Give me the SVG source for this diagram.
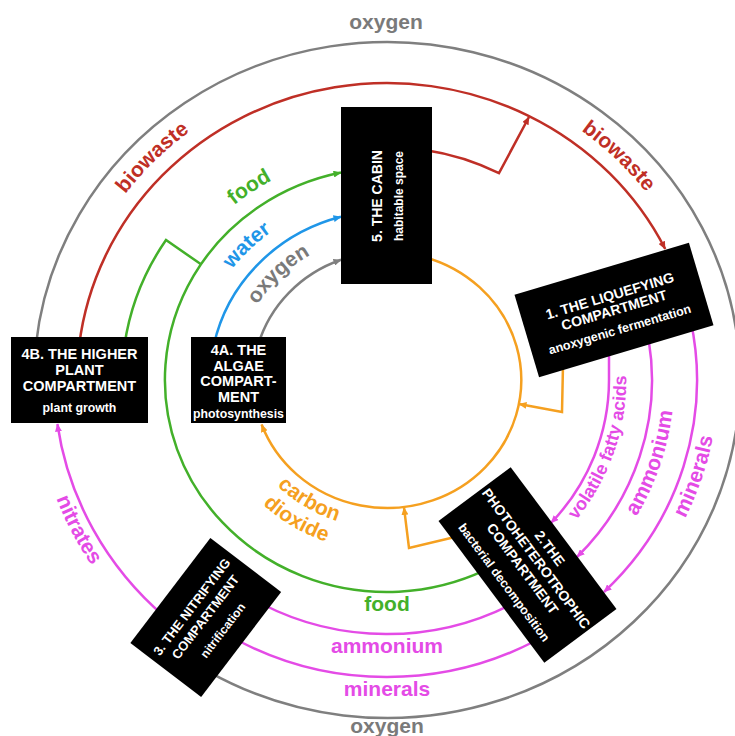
<svg xmlns="http://www.w3.org/2000/svg" width="735" height="736" viewBox="0 0 735 736">
<style>
text{font-family:"Liberation Sans",Arial,Helvetica,sans-serif;font-weight:bold}
.ln{fill:none;stroke-width:2.5;stroke-linejoin:miter}
.gy{stroke:#7f7f7f}.rd{stroke:#bf2f26}.gn{stroke:#43b02a}.bl{stroke:#1f96e8}.or{stroke:#f5a020}.mg{stroke:#e44be6}
.box{fill:#000}
.bt{fill:#fff;font-size:14px;text-anchor:middle}
.bs{fill:#fff;font-size:12px;text-anchor:middle}
.lbl{font-size:21px;text-anchor:middle}
.tgy{fill:#7a7a7a}.trd{fill:#bf2f26}.tgn{fill:#43b02a}.tbl{fill:#1f96e8}.tor{fill:#f5a020}.tmg{fill:#e44be6}
</style>
<defs>
<marker id="aGy" markerWidth="8" markerHeight="7" refX="7.5" refY="3.5" orient="auto" markerUnits="userSpaceOnUse"><path d="M0,0 L8,3.5 L0,7 z" fill="#7f7f7f"/></marker>
<marker id="aRd" markerWidth="8" markerHeight="7" refX="7.5" refY="3.5" orient="auto" markerUnits="userSpaceOnUse"><path d="M0,0 L8,3.5 L0,7 z" fill="#bf2f26"/></marker>
<marker id="aGn" markerWidth="8" markerHeight="7" refX="7.5" refY="3.5" orient="auto" markerUnits="userSpaceOnUse"><path d="M0,0 L8,3.5 L0,7 z" fill="#43b02a"/></marker>
<marker id="aBl" markerWidth="8" markerHeight="7" refX="7.5" refY="3.5" orient="auto" markerUnits="userSpaceOnUse"><path d="M0,0 L8,3.5 L0,7 z" fill="#1f96e8"/></marker>
<marker id="aOr" markerWidth="8" markerHeight="7" refX="7.5" refY="3.5" orient="auto" markerUnits="userSpaceOnUse"><path d="M0,0 L8,3.5 L0,7 z" fill="#f5a020"/></marker>
<marker id="aMg" markerWidth="8" markerHeight="7" refX="7.5" refY="3.5" orient="auto" markerUnits="userSpaceOnUse"><path d="M0,0 L8,3.5 L0,7 z" fill="#e44be6"/></marker>
<path id="pBioL" d="M79.7,275.9 A326,312 0 0 1 272.8,87.8"/>
<path id="pBioR" d="M498.2,87.8 A325,311 0 0 1 692.4,273.6"/>
<path id="pFood" d="M181.5,264.6 A238.3,228 0 0 1 347.3,155.2"/>
<path id="pWater" d="M205.1,317.3 A193.3,185 0 0 1 320.3,206.4"/>
<path id="pOxIn" d="M242.3,337.1 A151.5,145 0 0 1 343.2,241.2"/>
<path id="pVfa" d="M546.5,550.7 A239.3,229 0 0 0 621.2,333.2"/>
<path id="pAmR" d="M597.2,567.6 A287.4,275 0 0 0 672.2,346.5"/>
<path id="pMinR" d="M640.8,583.8 A331.3,317 0 0 0 717.5,357.9"/>
<path id="pNit" d="M36.3,420 A353.2,338 0 0 0 145.2,626.4"/>
<path id="pCarb" d="M249.5,450 A155.7,149 0 0 0 381.6,528.9"/>
<path id="pDiox" d="M228.3,460.8 A179.7,172 0 0 0 380.7,551.9"/>
</defs>
<rect width="735" height="736" fill="#fff"/>

<g id="connectors">
  <path class="ln gy" d="M208,671.3 A353,338 0 1 0 35.9,345"/>
  <path class="ln rd" d="M79.2,345 A310,297 0 0 1 665.2,249" marker-end="url(#aRd)"/>
  <path class="ln rd" d="M425,149.9 A243.5,233 0 0 1 499,173.1 L529,117" marker-end="url(#aRd)"/>
  <path class="ln gn" d="M485,570.2 A222,212 0 1 1 341,172.6" marker-end="url(#aGn)"/>
  <path class="ln gn" d="M124.5,345 A265,254 0 0 1 166,240 L201,264.3"/>
  <path class="ln bl" d="M213.8,345 A177,169 0 0 1 341,216.8" marker-end="url(#aBl)"/>
  <path class="ln gy" d="M258.1,345 A134,128 0 0 1 341,259.8" marker-end="url(#aGy)"/>
  <path class="ln or" d="M425,257.2 A134,128 0 1 1 261.6,424.5" marker-end="url(#aOr)"/>
  <path class="ln or" d="M563,365 L562,412 L519,404" marker-end="url(#aOr)"/>
  <path class="ln or" d="M455,537 L409,548 L404,507.5" marker-end="url(#aOr)"/>
  <path class="ln mg" d="M609,350 L609,380 A222,212 0 0 1 551,523" marker-end="url(#aMg)"/>
  <path class="ln mg" d="M648.7,340 A265,254 0 0 1 577,557" marker-end="url(#aMg)"/>
  <path class="ln mg" d="M690.6,320 A310,297 0 0 1 604,592" marker-end="url(#aMg)"/>
  <path class="ln mg" d="M510,605 A265,254 0 0 1 262,604"/>
  <path class="ln mg" d="M535,641 A310,297 0 0 1 238,640.5"/>
  <path class="ln mg" d="M165,617 A333,318 0 0 1 57.4,424" marker-end="url(#aMg)"/>
</g>

<g id="labels">
  <text class="lbl tgy" x="386" y="29">oxygen</text>
  <text class="lbl tgy" x="387" y="733">oxygen</text>
  <text class="lbl tgn" x="387" y="611">food</text>
  <text class="lbl tmg" x="387" y="653">ammonium</text>
  <text class="lbl tmg" x="387" y="696">minerals</text>
  <text class="lbl trd"><textPath href="#pBioL" startOffset="50%">biowaste</textPath></text>
  <text class="lbl trd"><textPath href="#pBioR" startOffset="50%">biowaste</textPath></text>
  <text class="lbl tgn"><textPath href="#pFood" startOffset="50%">food</textPath></text>
  <text class="lbl tbl"><textPath href="#pWater" startOffset="50%">water</textPath></text>
  <text class="lbl tgy"><textPath href="#pOxIn" startOffset="50%">oxygen</textPath></text>
  <text class="lbl tmg" style="font-size:18px"><textPath href="#pVfa" startOffset="50%">volatile fatty acids</textPath></text>
  <text class="lbl tmg"><textPath href="#pAmR" startOffset="50%">ammonium</textPath></text>
  <text class="lbl tmg"><textPath href="#pMinR" startOffset="50%">minerals</textPath></text>
  <text class="lbl tmg"><textPath href="#pNit" startOffset="50%">nitrates</textPath></text>
  <text class="lbl tor"><textPath href="#pCarb" startOffset="50%">carbon</textPath></text>
  <text class="lbl tor"><textPath href="#pDiox" startOffset="50%">dioxide</textPath></text>
</g>

<g id="node-5-cabin">
  <rect class="box" x="341" y="107" width="91" height="177"/>
  <g transform="translate(386.5,196) rotate(-90)">
    <text class="bt" x="0" y="-4.5">5. THE CABIN</text>
    <text class="bs" x="0" y="16.5">habitable space</text>
  </g>
</g>

<g id="node-1-liquefying" transform="translate(614,310) rotate(-16.6)">
  <rect class="box" x="-91" y="-43" width="182" height="86"/>
  <text class="bt" x="0" y="-10">1. THE LIQUEFYING</text>
  <text class="bt" x="0" y="5">COMPARTMENT</text>
  <text class="bs" x="0" y="24.5" style="font-size:12.5px">anoxygenic fermentation</text>
</g>

<g id="node-2-photoheterotrophic" transform="translate(527.5,565) rotate(53.3)">
  <rect class="box" x="-88.5" y="-45" width="177" height="90"/>
  <text class="bt" x="0" y="-23">2.THE</text>
  <text class="bt" x="0" y="-6">PHOTOHETEROTROPHIC</text>
  <text class="bt" x="0" y="11">COMPARTMENT</text>
  <text class="bs" x="0" y="33.5" style="font-size:12.5px">bacterial decomposition</text>
</g>

<g id="node-3-nitrifying" transform="translate(205.75,617.5) rotate(-52.7)">
  <rect class="box" x="-66" y="-44.5" width="132" height="89"/>
  <text class="bt" x="0" y="-13" style="font-size:13px">3. THE NITRIFYING</text>
  <text class="bt" x="0" y="4" style="font-size:13px">COMPARTMENT</text>
  <text class="bs" x="0" y="25.5">nitrification</text>
</g>

<g id="node-4b-higher-plant">
  <rect class="box" x="11" y="337" width="137" height="86"/>
  <text class="bt" x="79.5" y="359" style="font-size:14.5px">4B. THE HIGHER</text>
  <text class="bt" x="79.5" y="375" style="font-size:14.5px">PLANT</text>
  <text class="bt" x="79.5" y="391" style="font-size:14.5px">COMPARTMENT</text>
  <text class="bs" x="79.5" y="412" style="font-size:12.3px">plant growth</text>
</g>

<g id="node-4a-algae">
  <rect class="box" x="191" y="337" width="95" height="86"/>
  <text class="bt" x="238.5" y="355" style="font-size:14.5px">4A. THE</text>
  <text class="bt" x="238.5" y="370.7" style="font-size:14.5px">ALGAE</text>
  <text class="bt" x="238.5" y="386.4" style="font-size:14.5px">COMPART-</text>
  <text class="bt" x="238.5" y="402" style="font-size:14.5px">MENT</text>
  <text class="bs" x="238.5" y="418" style="font-size:12.3px">photosynthesis</text>
</g>
</svg>
